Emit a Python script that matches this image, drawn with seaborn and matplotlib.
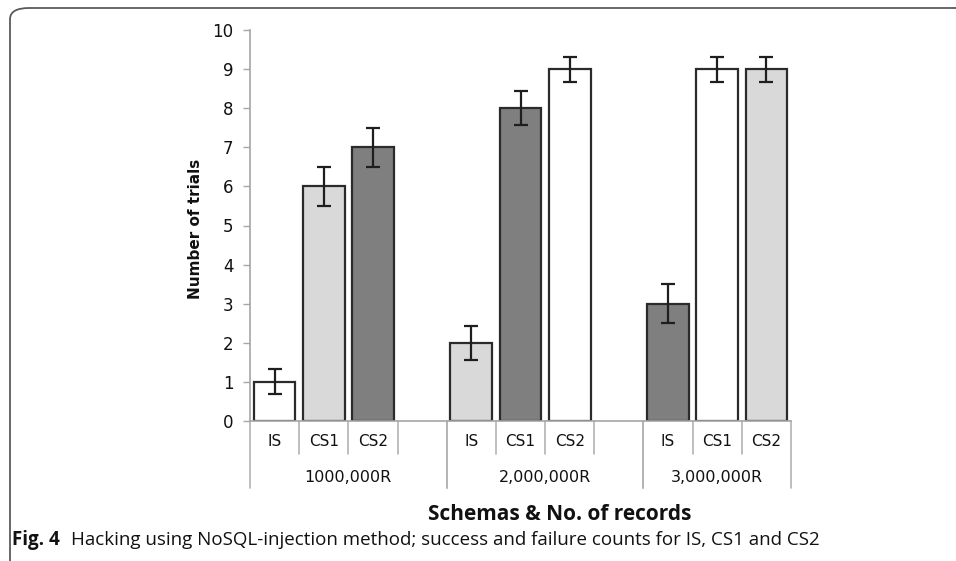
import matplotlib
matplotlib.use("Agg")
import matplotlib.pyplot as plt
import matplotlib.transforms as mtransforms
from matplotlib.patches import FancyBboxPatch
import seaborn as sns
import pandas as pd

# ---- data ----
groups = ["1000,000R", "2,000,000R", "3,000,000R"]
schemas = ["IS", "CS1", "CS2"]
values = [1, 6, 7, 2, 8, 9, 3, 9, 9]
errors = [0.32, 0.5, 0.5, 0.44, 0.43, 0.32, 0.5, 0.32, 0.32]
fills = ["white", "light", "dark", "light", "dark", "white", "dark", "white", "light"]
yticks = list(range(0, 11))
ylabel = "Number of trials"
xlabel = "Schemas & No. of records"
caption_bold = "Fig. 4"
caption_text = "Hacking using NoSQL-injection method; success and failure counts for IS, CS1 and CS2"

shade = {"white": "#ffffff", "light": "#d9d9d9", "dark": "#7f7f7f"}

# slot order (gap slot after first two groups)
order = []
rows = []
k = 0
for gi, g in enumerate(groups):
    for s in schemas:
        key = f"{g}|{s}"
        order.append(key)
        rows.append({"slot": key, "group": g, "schema": s, "value": values[k],
                     "err": errors[k], "fill": shade[fills[k]]})
        k += 1
    if gi < len(groups) - 1:
        order.append(f"{g}|gap")
df = pd.DataFrame(rows)
palette = dict(zip(df["slot"], df["fill"]))

sns.set_theme(style="white")
plt.rcParams["font.family"] = ["DejaVu Sans"]

fig = plt.figure(figsize=(9.56, 5.61), dpi=100)
W, H = 956, 561
ax = fig.add_axes([250 / W, 1 - 421 / H, 541 / W, 391 / H])

sns.barplot(data=df, x="slot", y="value", order=order, hue="slot", hue_order=list(df["slot"]),
            palette=palette, legend=False, width=0.85, edgecolor="#2b2b2b", linewidth=1.6,
            errorbar=None, ax=ax)

pos = [order.index(s) for s in df["slot"]]
ax.errorbar(pos, df["value"], yerr=df["err"], fmt="none", ecolor="#1e1e1e",
            elinewidth=1.6, capsize=4.7, capthick=1.6, zorder=5)

ax.set_xlim(-0.5, len(order) - 0.5)
ax.set_ylim(0, 10)
ax.set_yticks(yticks)
ax.set_yticklabels([str(t) for t in yticks], fontsize=12, color="#111111")
ax.tick_params(axis="y", length=5, width=1, color="#a6a6a6", pad=7, left=True)
ax.tick_params(axis="x", length=0, labelbottom=False)
ax.set_xlabel("")
ax.set_ylabel(ylabel, fontsize=11, fontweight="bold", color="#111111")
ax.yaxis.label.set_va("center")
ax.yaxis.set_label_coords((196 - 250) / 541, (421 - 229) / 391)
for sp in ["top", "right"]:
    ax.spines[sp].set_visible(False)
for sp in ["left", "bottom"]:
    ax.spines[sp].set_color("#a6a6a6")
    ax.spines[sp].set_linewidth(1.2)

# category table below the axis
trans = mtransforms.blended_transform_factory(ax.transData, ax.transAxes)
row1_y, row2_y = -21 / 391, -56 / 391
short_y, long_y = -33 / 391, -67 / 391
for i, key in enumerate(order):
    g, s = key.split("|")
    if s != "gap":
        ax.text(i, row1_y, s, transform=trans, ha="center", va="center", fontsize=11,
                color="#111111")
for gi, g in enumerate(groups):
    idx = [i for i, key in enumerate(order) if key.startswith(g + "|")]
    lo, hi = idx[0] - 0.5, idx[-1] + 0.5
    for xx in (lo, hi):
        ax.plot([xx, xx], [0, long_y], transform=trans, color="#b3b3b3", lw=1.2, clip_on=False)
    for b in range(idx[0], idx[-1]):
        ax.plot([b + 0.5, b + 0.5], [0, short_y], transform=trans, color="#b3b3b3", lw=1.2,
                clip_on=False)
    ax.text((lo + hi) / 2, row2_y, g, transform=trans, ha="center", va="center",
            fontsize=11.5, color="#111111")

fig.text(560 / W, 1 - 515 / H, xlabel, ha="center", va="center", fontsize=15,
         fontweight="bold", family="Open Sans", color="#111111")

t1 = fig.text(12 / W, 1 - 540 / H, caption_bold, ha="left", va="center", fontsize=13.5,
              fontweight="bold", family="Open Sans", color="#111111")
fig.canvas.draw()
bb = t1.get_window_extent(renderer=fig.canvas.get_renderer())
fig.text((bb.x1 + 11) / W, 1 - 540 / H, caption_text, fontsize=13.5, family="Open Sans",
         color="#111111", ha="left", va="center")

# rounded frame
frame = FancyBboxPatch((10 / W, -10 / H), 1.2, (H - 8 + 10) / H, transform=fig.transFigure,
                       boxstyle="round,pad=0,rounding_size=0.02", fill=False,
                       edgecolor="#5a5a5a", lw=1.3)
fig.patches.append(frame)

fig.savefig("out.png", dpi=100)
